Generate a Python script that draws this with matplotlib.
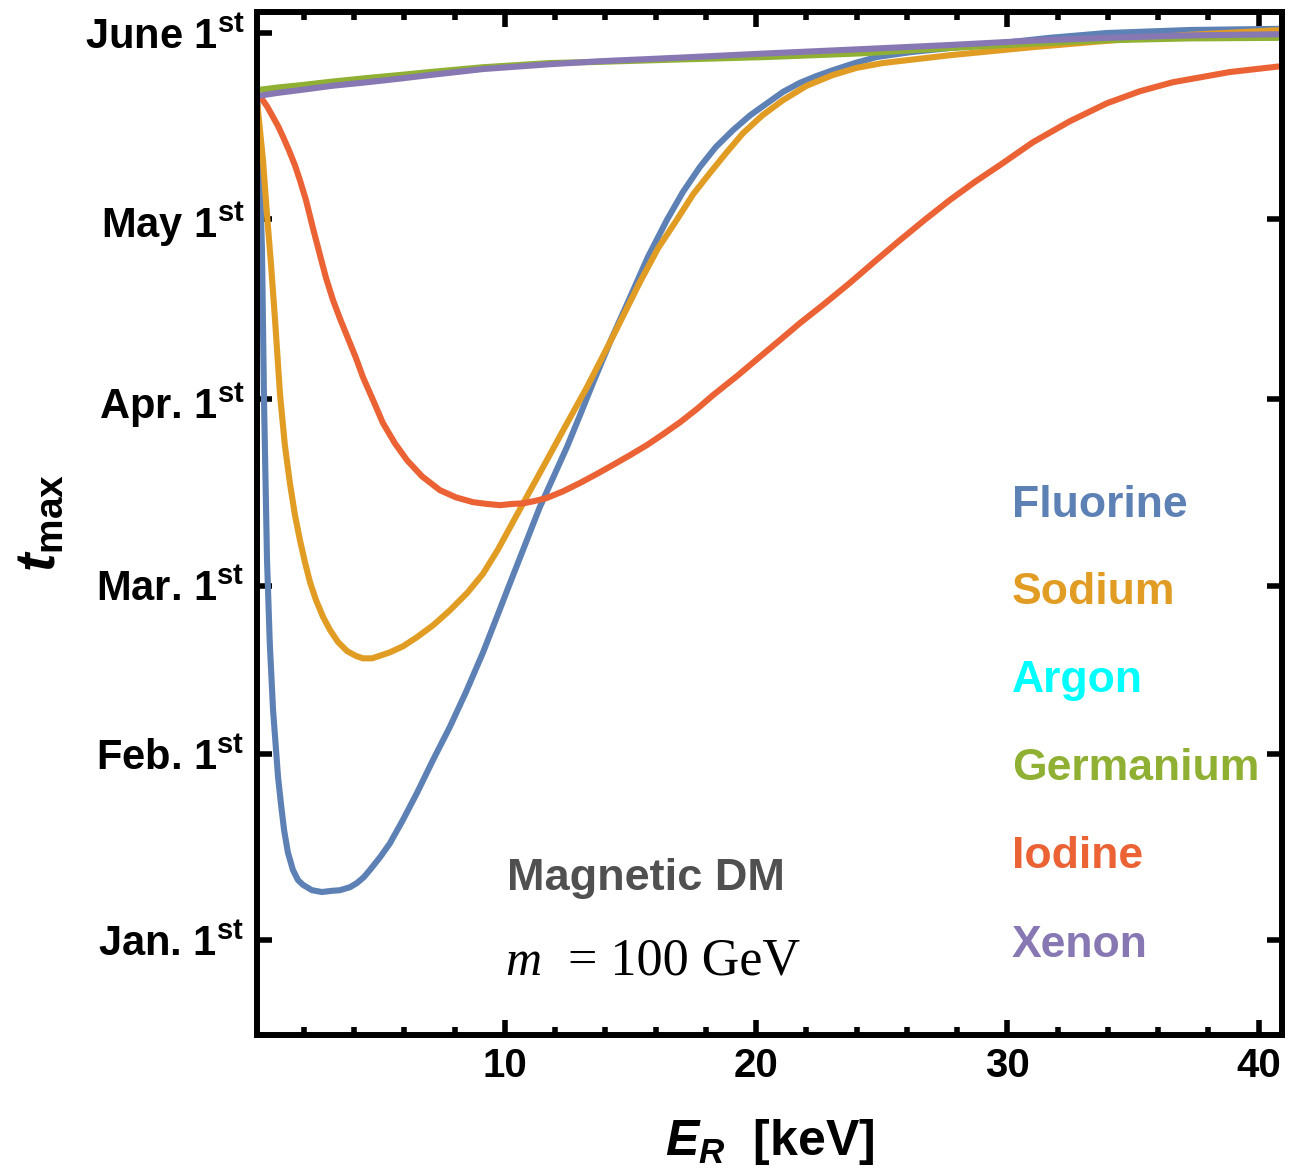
import matplotlib.pyplot as plt
from matplotlib.ticker import MultipleLocator

plt.rcParams['font.family'] = ['Liberation Sans', 'DejaVu Sans']
plt.rcParams['font.weight'] = 'bold'
plt.rcParams['axes.labelweight'] = 'bold'
plt.rcParams['mathtext.fontset'] = 'custom'
plt.rcParams['mathtext.rm'] = 'Liberation Sans:bold'
plt.rcParams['mathtext.bf'] = 'Liberation Sans:bold'
plt.rcParams['mathtext.it'] = 'Liberation Sans:italic:bold'

# recoil energy [keV] and day of year of the maximum (Jan 1st = 0)
fluorine_e = [0.15, 0.25, 0.33, 0.41, 0.53, 0.64, 0.77, 0.89, 0.97, 1.09, 1.21, 1.36, 1.56, 1.76,
              1.96, 2.32, 2.72, 3.11, 3.43, 3.83, 4.11, 4.39, 4.63, 5.03, 5.42, 5.94, 6.50, 7.14,
              7.81, 8.45, 9.13, 9.68, 10.20, 10.80, 11.39, 11.91, 12.47, 12.99, 13.50, 14.22,
              14.97, 15.69, 16.45, 17.08, 17.76, 18.39, 19.07, 19.76, 20.43, 21.07, 21.74, 22.38,
              23.05, 23.93, 24.80, 26.12, 27.71, 29.70, 31.69, 33.96, 37.26, 40.95]
fluorine_t = [139.8, 126.5, 114.9, 89.9, 63.3, 49.4, 38.3, 31.6, 27.1, 22.5, 18.3, 14.6, 11.7, 10.0,
              9.2, 8.3, 8.0, 8.2, 8.3, 8.8, 9.5, 10.5, 11.7, 13.8, 16.1, 20.0, 24.5, 30.0,
              35.5, 41.3, 47.9, 53.8, 59.4, 65.8, 72.1, 76.9, 82.1, 87.4, 92.7, 99.9,
              106.9, 113.7, 119.9, 124.5, 128.7, 132.0, 134.8, 137.3, 139.3, 141.2, 142.7, 143.8,
              144.8, 146.0, 147.0, 147.8, 148.5, 149.3, 150.2, 151.0, 151.5, 151.7]

sodium_e = [0.15, 0.37, 0.53, 0.69, 0.85, 1.05, 1.24, 1.44, 1.64, 1.84, 2.04, 2.24, 2.48, 2.76,
            3.04, 3.36, 3.72, 4.07, 4.35, 4.71, 5.07, 5.42, 5.94, 6.49, 7.14, 7.81, 8.50, 9.13,
            9.72, 10.32, 11.00, 11.67, 12.40, 13.26, 14.30, 15.37, 16.10, 16.84, 17.50, 18.16,
            18.80, 19.47, 20.25, 21.06, 22.00, 23.05, 24.00, 25.04, 27.71, 30.89, 33.96, 37.26,
            40.95]
sodium_t = [139.0, 129.8, 120.7, 112.4, 103.2, 90.7, 82.4, 76.1, 70.8, 66.6, 62.9, 59.6, 56.6, 53.8,
            51.6, 49.6, 48.1, 47.3, 46.9, 46.9, 47.4, 47.9, 48.9, 50.4, 52.4, 54.9, 57.8, 61.0,
            65.0, 69.6, 74.8, 79.9, 85.5, 92.0, 100.5, 109.5, 115.2, 119.9, 124.2, 127.7,
            131.0, 134.3, 137.3, 139.8, 142.2, 144.0, 145.2, 146.0, 147.3, 148.6, 149.7, 150.7,
            151.5]

germanium_e = [0.15, 0.9, 1.84, 3.1, 4.51, 5.8, 7.01, 9.13, 11.79, 13.78, 16.97, 20.43, 24.13,
               27.71, 30.89, 33.96, 37.26, 40.95]
germanium_t = [141.5, 141.9, 142.3, 142.9, 143.5, 144.0, 144.5, 145.3, 146.0, 146.2, 146.6, 147.0,
               147.6, 148.5, 149.2, 149.8, 150.1, 150.2]

iodine_e = [0.15, 0.33, 0.53, 0.73, 0.97, 1.17, 1.40, 1.64, 1.84, 2.08, 2.36, 2.64, 2.88, 3.16,
            3.43, 3.75, 4.07, 4.35, 4.75, 5.14, 5.62, 6.10, 6.70, 7.41, 8.05, 8.73, 9.29, 9.80,
            10.28, 10.72, 11.19, 11.67, 12.31, 12.99, 13.66, 14.30, 14.97, 15.65, 16.29, 16.97,
            17.64, 18.28, 19.24, 20.15, 20.95, 21.74, 22.74, 23.73, 24.73, 25.72, 26.71, 27.71,
            28.70, 29.70, 31.01, 32.48, 33.96, 35.27, 36.58, 38.85, 40.95]
iodine_t = [140.3, 140.0, 138.8, 137.3, 135.5, 133.7, 131.5, 129.0, 126.5, 123.2, 118.5, 114.0,
            110.2, 106.5, 103.5, 100.2, 96.9, 93.7, 89.9, 86.1, 82.7, 79.9, 77.2, 74.9, 73.7,
            72.9, 72.6, 72.4, 72.6, 72.7, 73.1, 73.6, 74.7, 76.1, 77.6, 79.1, 80.7, 82.4, 84.2,
            86.2, 88.4, 90.7, 93.9, 97.1, 99.9, 102.7, 106.0, 109.4, 113.0, 116.5, 119.9, 123.2,
            126.2, 129.0, 132.8, 136.3, 139.3, 141.3, 142.8, 144.5, 145.5]

xenon_e = [0.15, 0.9, 1.84, 3.1, 4.51, 5.8, 7.01, 9.13, 11.79, 13.78, 16.97, 20.43, 24.13, 27.71,
           30.89, 33.96, 37.26, 40.95]
xenon_t = [140.5, 141.0, 141.5, 142.2, 142.8, 143.4, 144.0, 145.0, 145.8, 146.3, 146.9, 147.6,
           148.3, 149.0, 149.7, 150.2, 150.6, 150.8]

month_days = [0, 31, 59, 90, 120, 151]
month_labels = ['Jan. $1^{\\rm st}$', 'Feb. $1^{\\rm st}$', 'Mar. $1^{\\rm st}$',
                'Apr. $1^{\\rm st}$', 'May $1^{\\rm st}$', 'June $1^{\\rm st}$']

names = ['Fluorine', 'Sodium', 'Argon', 'Germanium', 'Iodine', 'Xenon']
colors = ['#5E81B5', '#E19C24', '#00FFFF', '#8FB032', '#EB6235', '#8778B3']

fig = plt.figure(figsize=(12.9, 11.74), dpi=100)
ax = fig.add_axes([0.1992, 0.1184, 0.7946, 0.8714])

line_kw = dict(lw=4.4, solid_capstyle='round', solid_joinstyle='round')
ax.plot(fluorine_e, fluorine_t, color=colors[0], **line_kw)
ax.plot(sodium_e, sodium_t, color=colors[1], **line_kw)
ax.plot(germanium_e, germanium_t, color=colors[3], **line_kw)
ax.plot(iodine_e, iodine_t, color=colors[4], **line_kw)
ax.plot(xenon_e, xenon_t, color=colors[5], **line_kw)

ax.set_xlim(0.13, 40.93)
ax.set_ylim(-15.8, 154.5)

ax.xaxis.set_major_locator(MultipleLocator(10))
ax.xaxis.set_minor_locator(MultipleLocator(2))
ax.set_yticks(month_days, month_labels)
ax.tick_params(which='both', direction='in', top=True, right=True, width=4)
ax.tick_params(which='major', length=11)
ax.tick_params(which='minor', length=6)
ax.tick_params(axis='y', pad=9, labelsize=30)
ax.tick_params(axis='x', pad=9, labelsize=29)
for s in ax.spines.values():
    s.set_linewidth(4.3)

ax.set_xlabel('$E_R$  [keV]', fontsize=36)
ax.xaxis.set_label_coords(0.5, -0.08)
ax.set_ylabel('$t_{\\rm max}$', fontsize=40)
ax.yaxis.set_label_coords(-0.185, 0.5)

# element names
label_days = [70.4, 55.9, 41.3, 26.6, 12.0, -2.8]
for name, c, d in zip(names, colors, label_days):
    ax.text(30.18, d, name, color=c, fontsize=32, va='baseline', ha='left')

ax.text(10.08, 8.3, 'Magnetic DM', color='#505050', fontsize=32.5, va='baseline')
ax.text(10.0, -5.8, 'm', fontfamily='Liberation Serif', fontstyle='italic', fontweight='normal',
        fontsize=36, va='baseline')
ax.text(12.5, -5.8, '= 100 GeV', fontfamily='Liberation Serif', fontweight='normal',
        fontsize=37.5, va='baseline')

fig.savefig('out.png', dpi=100)
